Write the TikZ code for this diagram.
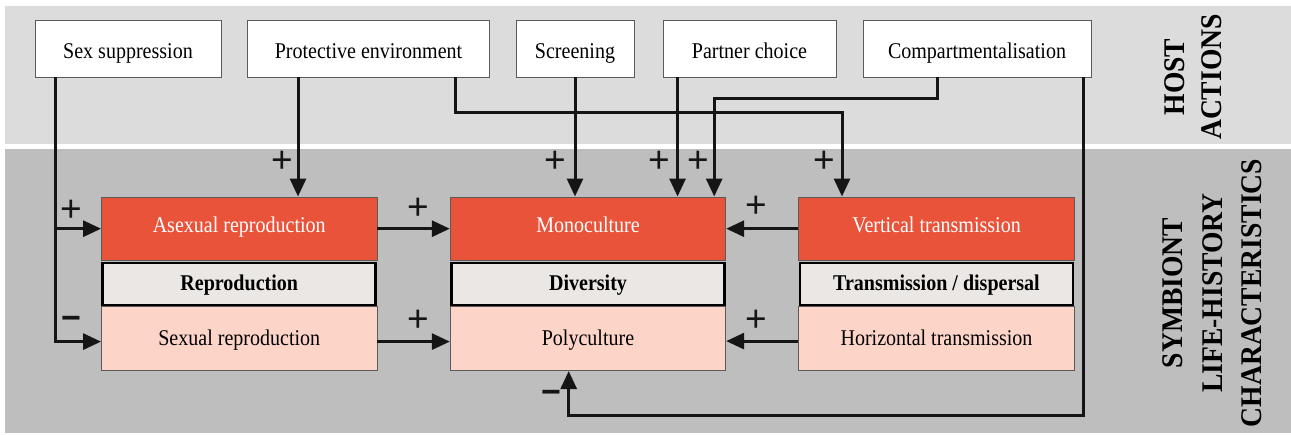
\documentclass[tikz,border=0pt]{standalone}
\usepackage{fontspec}
\setmainfont{Liberation Serif}
\newfontfamily\boxfont{Liberation Serif}[FakeStretch=0.89]
\newfontfamily\sidefont{Liberation Serif}[FakeStretch=0.92]
\newfontfamily\signfont{Liberation Sans}
\usetikzlibrary{arrows.meta}
\definecolor{bgtop}{HTML}{DCDCDC}
\definecolor{bgbot}{HTML}{BEBEBE}
\definecolor{redbox}{HTML}{E8533A}
\definecolor{pinkbox}{HTML}{FDD5C8}
\definecolor{midbox}{HTML}{EAE7E4}
\definecolor{edgegray}{HTML}{5A5A5A}
\definecolor{linkcol}{HTML}{151515}
\begin{document}
\begin{tikzpicture}[x=1pt,y=-1pt,
  txt/.style={font=\boxfont\fontsize{22.5}{26}\selectfont, inner sep=0pt},
  hostbox/.style={txt, draw=edgegray, line width=0.9pt, fill=white, minimum height=56.3pt, text height=21pt, text depth=2pt},
  topbox/.style={txt, draw=edgegray, line width=0.9pt, fill=redbox, text=white, minimum width=275.5pt, minimum height=63.5pt, text height=14pt, text depth=6pt},
  midrow/.style={txt, draw=black, line width=2.6pt, fill=midbox, font=\boxfont\bfseries\fontsize{22.5}{26}\selectfont, minimum width=273pt, minimum height=42pt, text height=16pt, text depth=3.8pt},
  lowbox/.style={txt, draw=edgegray, line width=0.9pt, fill=pinkbox, minimum width=275.5pt, minimum height=64pt, text height=17pt, text depth=2.8pt},
  link/.style={draw=linkcol, line width=3pt, -{Triangle[length=18pt,width=16pt]}},
  sign/.style={font=\signfont\fontsize{37}{37}\selectfont, text=linkcol, inner sep=0pt},
  minussign/.style={font=\signfont\bfseries\fontsize{34}{34}\selectfont, text=linkcol, inner sep=0pt},
  side/.style={font=\sidefont\bfseries\fontsize{30}{37}\selectfont, align=center, rotate=90, inner sep=0pt}
]
\useasboundingbox (0,0) rectangle (1291,434);
% backgrounds
\fill[white] (0,0) rectangle (1291,434);
\fill[bgtop] (5,6) rectangle (1291,144);
\fill[bgbot] (5,149) rectangle (1291,433);

% host action boxes
\node[hostbox, minimum width=186pt] (sex) at (128,48.8) {Sex suppression};
\node[hostbox, minimum width=242pt] (prot) at (368.5,48.8) {Protective environment};
\node[hostbox, minimum width=118pt] (screen) at (575,48.8) {Screening};
\node[hostbox, minimum width=173pt] (partner) at (749.5,48.8) {Partner choice};
\node[hostbox, minimum width=228pt] (comp) at (977,48.8) {Compartmentalisation};

% symbiont boxes
\node[topbox] (asex) at (239.25,228.7) {Asexual reproduction};
\node[midrow] (repro) at (239.25,283.9) {Reproduction};
\node[lowbox] (sexr) at (239.25,338.6) {Sexual reproduction};

\node[topbox] (mono) at (588,228.7) {Monoculture};
\node[midrow] (div) at (588,283.9) {Diversity};
\node[lowbox] (poly) at (588,338.6) {Polyculture};

\node[topbox] (vert) at (936.5,228.7) {Vertical transmission};
\node[midrow] (trans) at (936.5,283.9) {Transmission / dispersal};
\node[lowbox] (horiz) at (936.5,338.6) {Horizontal transmission};

% side labels
\node[side] (host) at (1193.5,77) {HOST\\ACTIONS};
\node[side, font=\sidefont\bfseries\fontsize{30}{39.5}\selectfont] (symb) at (1212.5,293) {SYMBIONT\\LIFE-HISTORY\\CHARACTERISTICS};

% connectors
\draw[link] ([xshift=21pt]sex.south west) |- (asex.west);
\draw[link] ([xshift=21pt]sex.south west) |- ([yshift=-3pt]sexr.west);
\draw[link] ([xshift=-70.5pt]prot.south) -- ([xshift=-70.5pt]prot.south |- asex.north);
\draw[link] ([xshift=-34.5pt]prot.south east) -- ++(0,34.7) -| ([xshift=-94.5pt]vert.north);
\draw[link] (screen.south) -- (screen.south |- mono.north);
\draw[link] ([xshift=15pt]partner.south west) -- ([xshift=15pt]partner.south west |- mono.north);
\draw[link] ([xshift=-40pt]comp.south) -- ++(0,20.7) -| ([xshift=-12pt]mono.north east);
\draw[link] ([xshift=-7.5pt]comp.south east) -- ++(0,338) -| ([xshift=-19.3pt]poly.south);
\draw[link] (asex.east) -- (mono.west);
\draw[link] ([yshift=-3pt]sexr.east) -- ([yshift=-3pt]poly.west);
\draw[link] (vert.west) -- (mono.east);
\draw[link] ([yshift=-2.5pt]horiz.west) -- ([yshift=-2.5pt]poly.east);

% signs
\node[sign] (s1) at (71,211) {+};
\node[minussign] (s2) at (71,323) {−};
\node[sign] (s3) at (282,162) {+};
\node[sign] (s4) at (555,162) {+};
\node[sign] (s5) at (659,162) {+};
\node[sign] (s6) at (698,162) {+};
\node[sign] (s7) at (824,162) {+};
\node[sign] (s8) at (418,209) {+};
\node[sign] (s9) at (418,321) {+};
\node[sign] (s10) at (756,207) {+};
\node[sign] (s11) at (756,321) {+};
\node[minussign] (s12) at (551,397) {−};
\end{tikzpicture}
\end{document}
